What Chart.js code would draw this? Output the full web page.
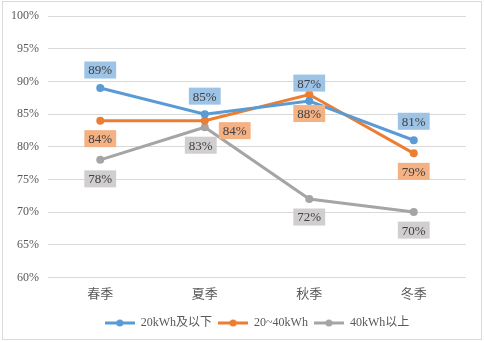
<!DOCTYPE html>
<html>
<head>
<meta charset="utf-8">
<script src="https://cdn.jsdelivr.net/npm/chart.js@4"></script>
<style>
  html, body { margin: 0; padding: 0; background: #fff; }
  #wrap { position: relative; width: 484px; height: 342px; }
</style>
</head>
<body>
<div id="wrap"><canvas id="seasonChart" width="484" height="342"></canvas></div>
<script>
// data
const seasons = ["春季", "夏季", "秋季", "冬季"];
const seriesNames = ["20kWh及以下", "20~40kWh", "40kWh以上"];
const small = [89, 85, 87, 81];
const medium = [84, 84, 88, 79];
const large = [78, 83, 72, 70];
const yTicks = [60, 65, 70, 75, 80, 85, 90, 95, 100];

const FONT = "'Liberation Serif', 'Noto Sans CJK SC', serif";
const lineColors = ["#5B9BD5", "#ED7D31", "#A5A5A5"];
const boxColors = ["#9DC3E6", "#F4B183", "#D0CECE"];

// label offsets (px) relative to each point
const labelOffsets = [
  [[0, -18], [0, -18], [0, -18], [0, -19]],
  [[0, 18], [30, 10], [0, 19], [0, 18]],
  [[0, 19], [-4, 18], [0, 18], [0, 18]]
];

// little line + dot icon for the legend
function legendIcon(color) {
  const c = document.createElement("canvas");
  c.width = 30;
  c.height = 8;
  const g = c.getContext("2d");
  g.strokeStyle = color;
  g.lineWidth = 3;
  g.beginPath();
  g.moveTo(0, 4);
  g.lineTo(30, 4);
  g.stroke();
  g.fillStyle = color;
  g.beginPath();
  g.arc(15, 4, 3.5, 0, Math.PI * 2);
  g.fill();
  return c;
}

// thin frame round the whole picture
const frame = {
  id: "frame",
  beforeDraw(chart) {
    const ctx = chart.ctx;
    ctx.save();
    ctx.strokeStyle = "#DADADA";
    ctx.lineWidth = 1;
    ctx.strokeRect(2.5, 1.5, chart.width - 5, chart.height - 4);
    ctx.restore();
  }
};

const valueLabels = {
  id: "valueLabels",
  afterDatasetsDraw(chart) {
    const ctx = chart.ctx;
    ctx.save();
    ctx.font = "13px " + FONT;
    ctx.textAlign = "center";
    ctx.textBaseline = "middle";
    chart.data.datasets.forEach((ds, i) => {
      const meta = chart.getDatasetMeta(i);
      meta.data.forEach((pt, j) => {
        const txt = ds.data[j] + "%";
        const off = labelOffsets[i][j];
        const cx = pt.x + off[0];
        const cy = pt.y + off[1];
        const w = ctx.measureText(txt).width + 8;
        const h = 17;
        ctx.fillStyle = boxColors[i];
        ctx.fillRect(cx - w / 2, cy - h / 2, w, h);
        ctx.fillStyle = "#404040";
        ctx.fillText(txt, cx, cy + 1);
      });
    });
    ctx.restore();
  }
};

const seriesData = [small, medium, large];

new Chart(document.getElementById("seasonChart"), {
  type: "line",
  data: {
    labels: seasons,
    datasets: seriesData.map((d, i) => ({
      label: seriesNames[i],
      data: d,
      borderColor: lineColors[i],
      backgroundColor: lineColors[i],
      borderWidth: 3,
      pointRadius: 4,
      pointHoverRadius: 4,
      pointBorderWidth: 0,
      tension: 0,
      pointStyle: "circle"
    }))
  },
  options: {
    responsive: false,
    animation: false,
    layout: { padding: { top: 15, right: 18, left: 0, bottom: 3 } },
    plugins: {
      tooltip: { enabled: false },
      legend: {
        position: "bottom",
        fullSize: false,
        labels: {
          usePointStyle: true,
          pointStyleWidth: 30,
          padding: 6,
          color: "#595959",
          font: { family: FONT, size: 12 },
          generateLabels(chart) {
            return chart.data.datasets.map((ds, i) => ({
              text: ds.label,
              pointStyle: legendIcon(lineColors[i]),
              fillStyle: lineColors[i],
              strokeStyle: lineColors[i],
              lineWidth: 0,
              fontColor: "#595959",
              hidden: false,
              datasetIndex: i
            }));
          }
        }
      }
    },
    scales: {
      x: {
        offset: true,
        grid: { display: false, drawTicks: false },
        border: { display: false },
        ticks: { color: "#595959", padding: 9, font: { family: FONT, size: 13 } }
      },
      y: {
        min: 60,
        max: 100,
        afterFit(scale) { scale.width = 48; },
        afterBuildTicks(scale) { scale.ticks = yTicks.map(v => ({ value: v })); },
        grid: { color: "#D9D9D9", drawTicks: false },
        border: { display: false },
        ticks: {
          color: "#595959",
          padding: 9,
          font: { family: FONT, size: 12 },
          callback: v => v + "%"
        }
      }
    }
  },
  plugins: [frame, valueLabels]
});
</script>
</body>
</html>
